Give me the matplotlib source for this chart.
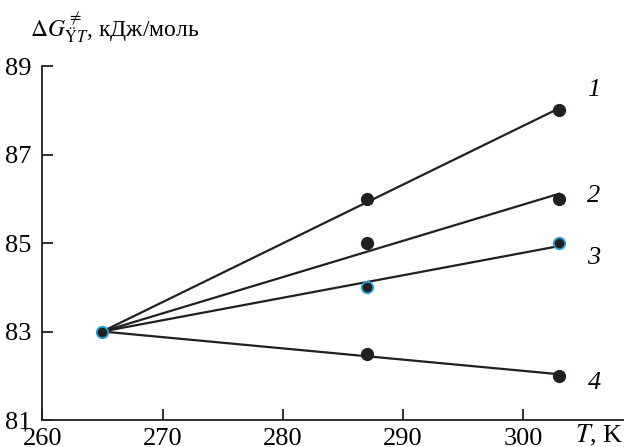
import numpy as np
import matplotlib.pyplot as plt

plt.rcParams['font.family'] = ['Liberation Serif', 'DejaVu Serif']
plt.rcParams['mathtext.fontset'] = 'stix'

# data
T = np.array([265, 287, 303])
G1 = np.array([83.0, 86.0, 88.0])
G2 = np.array([83.0, 85.0, 86.0])
G3 = np.array([83.0, 84.0, 85.0])
G4 = np.array([83.0, 82.5, 82.0])
series = [G1, G2, G3, G4]
labels = ['1', '2', '3', '4']
label_y = [88.45, 86.06, 84.66, 81.84]
blue_edge = [False, False, True, False]

fig = plt.figure(figsize=(6.27, 4.47), dpi=100)
ax = fig.add_axes([0.0675, 0.0604, 0.926, 0.7919])

x0, y0 = T[0], series[0][0]
for G, lab, ly, blue in zip(series, labels, label_y, blue_edge):
    # line forced through the common starting point
    dx = T - x0
    dy = G - y0
    k = np.sum(dx * dy) / np.sum(dx * dx)
    xs = np.array([T[0], T[-1]])
    ax.plot(xs, y0 + k * (xs - x0), color='#231f20', lw=1.6, zorder=2)
    ec = '#1aa3e0' if blue else '#231f20'
    ax.plot(T[1:], G[1:], 'o', ms=8.2, mfc='#231f20', mec=ec, mew=1.3, zorder=3)
    ax.text(305.9, ly, lab, fontsize=19, style='italic', ha='center', va='center')

# common start point (blue rim)
ax.plot([x0], [y0], 'o', ms=8.2, mfc='#231f20', mec='#1aa3e0', mew=1.3, zorder=4)

ax.set_xlim(260, 308.3)
ax.set_ylim(81, 89)
ax.set_xticks([260, 270, 280, 290, 300])
ax.set_yticks([81, 83, 85, 87, 89])
ax.spines['top'].set_visible(False)
ax.spines['right'].set_visible(False)
for s in ['left', 'bottom']:
    ax.spines[s].set_linewidth(1.3)
    ax.spines[s].set_color('#231f20')
ax.tick_params(direction='in', length=8, width=1.3, labelsize=19, color='#231f20')
ax.tick_params(axis='x', pad=6)
ax.tick_params(axis='y', pad=8)

fig.text(0.995, 0.025, r'$T$, K', fontsize=19, ha='right', va='center')
fig.text(0.048, 0.94, r'$\Delta G^{\neq}_{\ddot{\mathrm{Y}}T}$, кДж/моль', fontsize=17,
         ha='left', va='center')

fig.savefig('out.png', dpi=100)
